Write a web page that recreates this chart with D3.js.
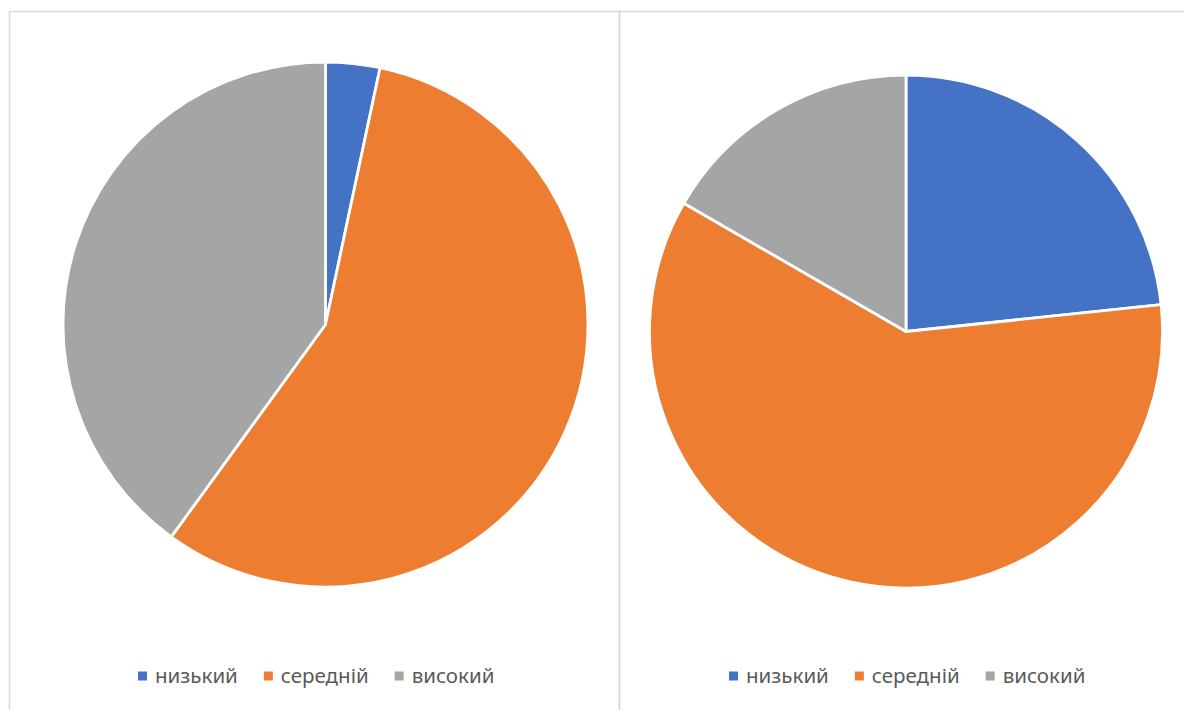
<!DOCTYPE html>
<html>
<head>
<meta charset="utf-8">
<script src="https://cdn.jsdelivr.net/npm/d3@7"></script>
<style>
  html, body { margin: 0; padding: 0; background: #fff; }
  svg { display: block; }
</style>
</head>
<body>
<div id="chart"></div>
<script>
// categories and the two series (counts)
const categories = ["низький", "середній", "високий"];
const seriesLeft = [1, 17, 12];
const seriesRight = [7, 18, 5];
const colors = ["#4472C4", "#ED7D31", "#A5A5A5"];

const width = 1184, height = 710;

const svg = d3.select('#chart')
  .append('svg')
  .attr('width', width)
  .attr('height', height);

// chart frames
svg.append('rect')
  .attr('x', 9.5).attr('y', 11.5)
  .attr('width', 610).attr('height', 720)
  .attr('fill', 'none').attr('stroke', '#D9D9D9').attr('stroke-width', 1.5);
svg.append('rect')
  .attr('x', 619.5).attr('y', 11.5)
  .attr('width', 600).attr('height', 720)
  .attr('fill', 'none').attr('stroke', '#D9D9D9').attr('stroke-width', 1.5);

const color = d3.scaleOrdinal().domain(categories).range(colors);

const pie = d3.pie().sort(null).value(d => d.value);

function drawPie(values, cx, cy, r, legendX) {
  const data = categories.map((c, i) => ({ name: c, value: values[i] }));
  const arc = d3.arc().innerRadius(0).outerRadius(r);
  const g = svg.append('g').attr('transform', `translate(${cx},${cy})`);
  g.selectAll('path')
    .data(pie(data))
    .enter()
    .append('path')
    .attr('d', arc)
    .attr('fill', d => color(d.data.name))
    .attr('stroke', '#fff')
    .attr('stroke-width', 2.8)
    .attr('stroke-linejoin', 'round');

  // legend
  const lg = svg.append('g').attr('transform', `translate(${legendX},676)`);
  let x = 0;
  categories.forEach((c, i) => {
    lg.append('rect')
      .attr('x', x).attr('y', -4.5)
      .attr('width', 9).attr('height', 9)
      .attr('fill', color(c));
    const t = lg.append('text')
      .attr('x', x + 17).attr('y', 0)
      .attr('dy', '0.35em')
      .attr('fill', '#595959')
      .style('font-family', 'Noto Sans, sans-serif')
      .style('font-size', '20.5px')
      .text(c);
    x += 17 + t.node().getComputedTextLength() + 26;
  });
}

drawPie(seriesLeft, 325.5, 324.5, 262.5, 138);
drawPie(seriesRight, 906, 331.5, 256.5, 729);
</script>
</body>
</html>
